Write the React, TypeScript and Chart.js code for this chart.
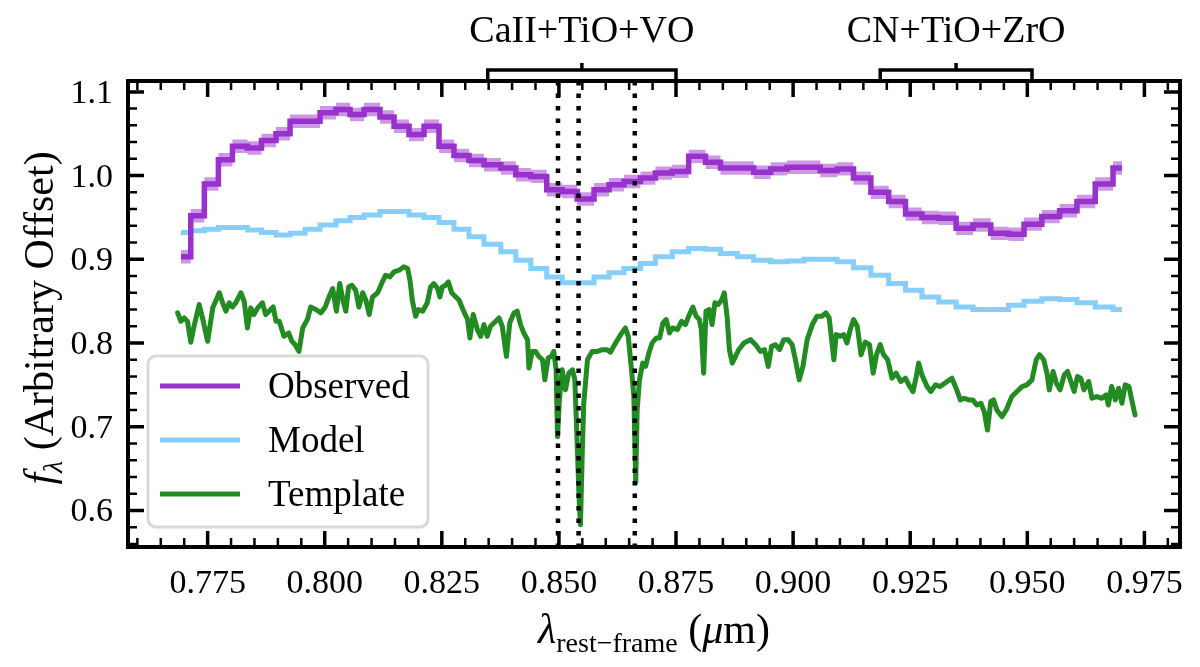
import { Chart, registerables } from 'chart.js';
import { useEffect, useRef } from 'react';

Chart.register(...registerables);

// bin edges of the observed / model spectra (micron)
const binEdges = [
    0.7693, 0.7714, 0.7743, 0.7773, 0.7803, 0.7835, 0.7865, 0.7896, 0.7926, 0.7958,
    0.7990, 0.8024, 0.8054, 0.8084, 0.8118, 0.8148, 0.8180, 0.8212, 0.8244, 0.8276,
    0.8308, 0.8340, 0.8376, 0.8408, 0.8440, 0.8474, 0.8507, 0.8539, 0.8575, 0.8607,
    0.8639, 0.8674, 0.8706, 0.8742, 0.8777, 0.8813, 0.8845, 0.8881, 0.8916, 0.8952,
    0.8987, 0.9023, 0.9058, 0.9094, 0.9129, 0.9166, 0.9204, 0.9240, 0.9275, 0.9311,
    0.9348, 0.9384, 0.9422, 0.9460, 0.9493, 0.9531, 0.9569, 0.9606, 0.9645, 0.9683,
    0.9702
];

const observedFlux = [
    0.903, 0.952, 0.990, 1.019, 1.035, 1.033, 1.042, 1.050, 1.065, 1.065,
    1.075, 1.079, 1.073, 1.079, 1.070, 1.059, 1.049, 1.059, 1.035, 1.024,
    1.018, 1.013, 1.009, 1.001, 0.999, 0.983, 0.981, 0.972, 0.983, 0.989,
    0.993, 0.997, 1.003, 1.005, 1.023, 1.016, 1.009, 1.009, 1.004, 1.008,
    1.010, 1.010, 1.006, 1.008, 0.997, 0.980, 0.969, 0.954, 0.950, 0.949,
    0.937, 0.941, 0.931, 0.930, 0.942, 0.951, 0.958, 0.969, 0.990, 1.009
];

const observedErr = [
    0.008, 0.008, 0.008, 0.008, 0.008, 0.008, 0.008, 0.008, 0.008, 0.008,
    0.008, 0.008, 0.008, 0.008, 0.008, 0.008, 0.008, 0.008, 0.008, 0.008,
    0.008, 0.008, 0.008, 0.008, 0.008, 0.008, 0.008, 0.008, 0.008, 0.008,
    0.008, 0.008, 0.008, 0.008, 0.008, 0.008, 0.008, 0.008, 0.008, 0.008,
    0.008, 0.008, 0.008, 0.008, 0.008, 0.008, 0.008, 0.008, 0.008, 0.008,
    0.008, 0.008, 0.008, 0.008, 0.008, 0.008, 0.008, 0.008, 0.008, 0.008
];

const modelFlux = [
    0.932, 0.934, 0.936, 0.938, 0.938, 0.935, 0.932, 0.929, 0.931, 0.936,
    0.941, 0.946, 0.950, 0.953, 0.957, 0.957, 0.953, 0.950, 0.944, 0.936,
    0.927, 0.918, 0.909, 0.899, 0.889, 0.879, 0.872, 0.872, 0.879, 0.884,
    0.889, 0.895, 0.903, 0.909, 0.913, 0.912, 0.907, 0.903, 0.899, 0.897,
    0.898, 0.900, 0.900, 0.897, 0.890, 0.881, 0.871, 0.863, 0.855, 0.849,
    0.843, 0.840, 0.840, 0.845, 0.850, 0.853, 0.852, 0.848, 0.843, 0.840
];

const templateWave = [
    0.7686, 0.7693, 0.7700, 0.7707, 0.7714, 0.7721, 0.7732, 0.7739, 0.7750, 0.7761,
    0.7775, 0.7782, 0.7789, 0.7796, 0.7803, 0.7810, 0.7821, 0.7828, 0.7835, 0.7842,
    0.7849, 0.7857, 0.7867, 0.7874, 0.7881, 0.7890, 0.7896, 0.7903, 0.7913, 0.7923,
    0.7930, 0.7937, 0.7945, 0.7953, 0.7963, 0.7970, 0.7981, 0.7992, 0.8001, 0.8009,
    0.8017, 0.8025, 0.8032, 0.8039, 0.8045, 0.8051, 0.8058, 0.8066, 0.8073, 0.8081,
    0.8088, 0.8095, 0.8102, 0.8113, 0.8123, 0.8130, 0.8139, 0.8148, 0.8159, 0.8169,
    0.8177, 0.8182, 0.8187, 0.8194, 0.8200, 0.8209, 0.8219, 0.8226, 0.8233, 0.8241,
    0.8246, 0.8251, 0.8258, 0.8264, 0.8271, 0.8280, 0.8287, 0.8295, 0.8305, 0.8310,
    0.8317, 0.8326, 0.8333, 0.8340, 0.8347, 0.8354, 0.8365, 0.8372, 0.8379, 0.8388,
    0.8395, 0.8404, 0.8411, 0.8418, 0.8425, 0.8433, 0.8436, 0.8443, 0.8450, 0.8457,
    0.8465, 0.8470, 0.8477, 0.8484, 0.8489, 0.8494, 0.8497, 0.8501, 0.8507, 0.8514,
    0.8521, 0.8529, 0.8534, 0.8539, 0.8543, 0.8546, 0.8550, 0.8553, 0.8561, 0.8571,
    0.8582, 0.8593, 0.8603, 0.8610, 0.8621, 0.8632, 0.8642, 0.8648, 0.8655, 0.8660,
    0.8664, 0.8667, 0.8672, 0.8679, 0.8685, 0.8692, 0.8699, 0.8708, 0.8715, 0.8722,
    0.8729, 0.8736, 0.8743, 0.8753, 0.8762, 0.8770, 0.8777, 0.8786, 0.8793, 0.8800,
    0.8804, 0.8809, 0.8814, 0.8821, 0.8827, 0.8833, 0.8840, 0.8847, 0.8853, 0.8859,
    0.8864, 0.8870, 0.8877, 0.8884, 0.8895, 0.8909, 0.8920, 0.8930, 0.8939, 0.8947,
    0.8954, 0.8962, 0.8971, 0.8980, 0.8989, 0.8998, 0.9005, 0.9013, 0.9021, 0.9030,
    0.9041, 0.9051, 0.9062, 0.9070, 0.9077, 0.9087, 0.9092, 0.9101, 0.9108, 0.9115,
    0.9122, 0.9129, 0.9137, 0.9145, 0.9154, 0.9163, 0.9171, 0.9178, 0.9186, 0.9193,
    0.9202, 0.9211, 0.9220, 0.9230, 0.9240, 0.9247, 0.9256, 0.9263, 0.9268, 0.9275,
    0.9286, 0.9294, 0.9304, 0.9314, 0.9329, 0.9339, 0.9348, 0.9357, 0.9365, 0.9375,
    0.9384, 0.9392, 0.9401, 0.9408, 0.9415, 0.9422, 0.9428, 0.9435, 0.9446, 0.9455,
    0.9467, 0.9478, 0.9489, 0.9499, 0.9510, 0.9519, 0.9526, 0.9535, 0.9542, 0.9547,
    0.9555, 0.9562, 0.9570, 0.9579, 0.9586, 0.9593, 0.9600, 0.9607, 0.9614, 0.9621,
    0.9631, 0.9638, 0.9648, 0.9659, 0.9668, 0.9673, 0.9680, 0.9688, 0.9695, 0.9702,
    0.9709, 0.9717, 0.9723, 0.9730
];

const templateFlux = [
    0.836, 0.826, 0.830, 0.826, 0.801, 0.820, 0.846, 0.830, 0.802, 0.842,
    0.860, 0.848, 0.838, 0.848, 0.843, 0.848, 0.860, 0.850, 0.818, 0.842,
    0.834, 0.842, 0.848, 0.834, 0.838, 0.843, 0.826, 0.826, 0.808, 0.812,
    0.802, 0.798, 0.790, 0.818, 0.828, 0.843, 0.840, 0.836, 0.843, 0.855,
    0.865, 0.838, 0.871, 0.851, 0.838, 0.867, 0.869, 0.863, 0.843, 0.860,
    0.851, 0.834, 0.855, 0.860, 0.873, 0.881, 0.879, 0.885, 0.887, 0.891,
    0.889, 0.875, 0.851, 0.832, 0.840, 0.838, 0.848, 0.867, 0.871, 0.865,
    0.855, 0.867, 0.869, 0.873, 0.860, 0.855, 0.851, 0.840, 0.828, 0.806,
    0.834, 0.816, 0.808, 0.822, 0.808, 0.820, 0.826, 0.830, 0.820, 0.784,
    0.824, 0.836, 0.838, 0.822, 0.812, 0.804, 0.770, 0.790, 0.790, 0.784,
    0.780, 0.756, 0.782, 0.784, 0.790, 0.768, 0.688, 0.732, 0.768, 0.744,
    0.764, 0.768, 0.756, 0.680, 0.616, 0.583, 0.672, 0.728, 0.780, 0.790,
    0.790, 0.792, 0.792, 0.789, 0.800, 0.810, 0.818, 0.808, 0.768, 0.736,
    0.633, 0.720, 0.756, 0.776, 0.772, 0.788, 0.800, 0.806, 0.806, 0.824,
    0.828, 0.812, 0.818, 0.816, 0.826, 0.822, 0.832, 0.843, 0.832, 0.828,
    0.816, 0.764, 0.838, 0.840, 0.822, 0.848, 0.846, 0.851, 0.860, 0.832,
    0.792, 0.776, 0.784, 0.792, 0.800, 0.804, 0.798, 0.790, 0.792, 0.772,
    0.796, 0.798, 0.792, 0.804, 0.804, 0.798, 0.780, 0.756, 0.772, 0.804,
    0.822, 0.832, 0.832, 0.836, 0.830, 0.780, 0.810, 0.808, 0.810, 0.800,
    0.816, 0.828, 0.820, 0.786, 0.801, 0.798, 0.764, 0.786, 0.798, 0.786,
    0.780, 0.758, 0.764, 0.754, 0.758, 0.750, 0.742, 0.760, 0.776, 0.762,
    0.748, 0.742, 0.750, 0.748, 0.754, 0.758, 0.746, 0.732, 0.734, 0.732,
    0.732, 0.726, 0.728, 0.718, 0.696, 0.730, 0.732, 0.720, 0.712, 0.720,
    0.736, 0.742, 0.748, 0.750, 0.756, 0.780, 0.786, 0.780, 0.764, 0.744,
    0.766, 0.752, 0.744, 0.762, 0.766, 0.754, 0.742, 0.760, 0.758, 0.744,
    0.754, 0.734, 0.736, 0.734, 0.738, 0.726, 0.748, 0.732, 0.746, 0.728,
    0.750, 0.748, 0.732, 0.714
];

// Ca II triplet (dotted lines)
const caTriplet = [0.8498, 0.8542, 0.8662];

// band brackets above the frame
const bandStarts = [0.8348, 0.9186];
const bandEnds = [0.8750, 0.9510];
const bandLabels = ['CaII+TiO+VO', 'CN+TiO+ZrO'];

const xTicks = [0.775, 0.800, 0.825, 0.850, 0.875, 0.900, 0.925, 0.950, 0.975];
const yTicks = [0.6, 0.7, 0.8, 0.9, 1.0, 1.1];

const legendLabels = ['Observed', 'Model', 'Template'];

const PURPLE = 'rgb(153, 50, 204)';
const PURPLE_BAND = 'rgba(153, 50, 204, 0.5)';
const BLUE = 'rgb(135, 206, 250)';
const GREEN = 'rgb(34, 139, 34)';
const SERIF = '"Liberation Serif", "DejaVu Serif", serif';

// value of bin i holds from edge i to edge i+1
function steps(values: number[]) {
    return binEdges.map((e, i) => ({ x: e, y: values[Math.max(i - 1, 0)] }));
}

const decorations = {
    id: 'decorations',
    afterDatasetsDraw(chart: Chart) {
        const { ctx, chartArea: a } = chart;
        const x = chart.scales.x;
        const y = chart.scales.y;
        ctx.save();

        // dotted Ca II lines
        ctx.strokeStyle = '#000';
        ctx.lineWidth = 4.5;
        ctx.setLineDash([4.5, 8]);
        for (const w of caTriplet) {
            const px = x.getPixelForValue(w);
            ctx.beginPath();
            ctx.moveTo(px, a.top);
            ctx.lineTo(px, a.bottom);
            ctx.stroke();
        }
        ctx.setLineDash([]);

        // minor ticks
        ctx.lineWidth = 2.5;
        ctx.beginPath();
        for (let k = 152; k <= 196; k++) {
            if (k % 5 === 0) continue;
            const px = x.getPixelForValue(k * 0.005);
            if (px < a.left || px > a.right) continue;
            ctx.moveTo(px, a.bottom); ctx.lineTo(px, a.bottom - 9);
            ctx.moveTo(px, a.top); ctx.lineTo(px, a.top + 9);
        }
        for (let k = 28; k <= 55; k++) {
            if (k % 5 === 0) continue;
            const py = y.getPixelForValue(k * 0.02);
            if (py < a.top || py > a.bottom) continue;
            ctx.moveTo(a.left, py); ctx.lineTo(a.left + 9, py);
            ctx.moveTo(a.right, py); ctx.lineTo(a.right - 9, py);
        }
        ctx.stroke();

        // major ticks
        ctx.lineWidth = 3.5;
        ctx.beginPath();
        for (const v of xTicks) {
            const px = x.getPixelForValue(v);
            ctx.moveTo(px, a.bottom); ctx.lineTo(px, a.bottom - 16);
            ctx.moveTo(px, a.top); ctx.lineTo(px, a.top + 16);
        }
        for (const v of yTicks) {
            const py = y.getPixelForValue(v);
            ctx.moveTo(a.left, py); ctx.lineTo(a.left + 16, py);
            ctx.moveTo(a.right, py); ctx.lineTo(a.right - 16, py);
        }
        ctx.stroke();

        // frame
        ctx.lineWidth = 4;
        ctx.strokeRect(a.left, a.top, a.right - a.left, a.bottom - a.top);

        // tick labels
        ctx.fillStyle = '#000';
        ctx.font = `34px ${SERIF}`;
        ctx.textAlign = 'center';
        ctx.textBaseline = 'alphabetic';
        for (const v of xTicks) {
            ctx.fillText(v.toFixed(3), x.getPixelForValue(v), a.bottom + 46);
        }
        ctx.textAlign = 'right';
        for (const v of yTicks) {
            ctx.fillText(v.toFixed(1), a.left - 15, y.getPixelForValue(v) + 11);
        }

        // band brackets
        ctx.lineWidth = 3.5;
        ctx.textAlign = 'center';
        ctx.font = `38px ${SERIF}`;
        bandLabels.forEach((label, i) => {
            const x0 = x.getPixelForValue(bandStarts[i]);
            const x1 = x.getPixelForValue(bandEnds[i]);
            const xc = (x0 + x1) / 2;
            const yb = a.top - 11;
            ctx.beginPath();
            ctx.moveTo(x0, a.top); ctx.lineTo(x0, yb); ctx.lineTo(x1, yb); ctx.lineTo(x1, a.top);
            ctx.moveTo(xc, yb); ctx.lineTo(xc, yb - 7);
            ctx.stroke();
            ctx.fillText(label, xc, 42);
        });

        // legend
        const lx = 148, ly = 356, lw = 280, lh = 171;
        ctx.beginPath();
        ctx.roundRect(lx, ly, lw, lh, 8);
        ctx.fillStyle = 'rgba(255,255,255,0.85)';
        ctx.fill();
        ctx.strokeStyle = '#d9d9d9';
        ctx.lineWidth = 3;
        ctx.stroke();
        const colors = [PURPLE, BLUE, GREEN];
        ctx.font = `37px ${SERIF}`;
        ctx.textAlign = 'left';
        legendLabels.forEach((label, i) => {
            const yy = 386 + i * 54;
            ctx.strokeStyle = colors[i];
            ctx.lineWidth = 5;
            ctx.beginPath();
            ctx.moveTo(160, yy); ctx.lineTo(240, yy);
            ctx.stroke();
            ctx.fillStyle = '#000';
            ctx.fillText(label, 268, yy + 12);
        });

        const drawParts = (ps: [string, string, number][], cx: number, base: number) => {
            let total = 0;
            for (const [t, f] of ps) { ctx.font = f; total += ctx.measureText(t).width; }
            let cur = cx - total / 2;
            ctx.textAlign = 'left';
            for (const [t, f, dy] of ps) {
                ctx.font = f;
                ctx.fillText(t, cur, base + dy);
                cur += ctx.measureText(t).width;
            }
        };
        ctx.fillStyle = '#000';

        // x title
        drawParts([
            ['λ', `italic 42px ${SERIF}`, 0],
            ['rest−frame', `28px ${SERIF}`, 9],
            [' (', `42px ${SERIF}`, 0],
            ['μ', `italic 42px ${SERIF}`, 0],
            ['m)', `42px ${SERIF}`, 0]
        ], (a.left + a.right) / 2, 643);

        // y title
        ctx.save();
        ctx.translate(53, (a.top + a.bottom) / 2 + 4);
        ctx.rotate(-Math.PI / 2);
        drawParts([
            ['f', `italic 42px ${SERIF}`, 0],
            ['λ', `italic 28px ${SERIF}`, 9],
            [' (Arbitrary Offset)', `42px ${SERIF}`, 0]
        ], 0, 0);
        ctx.restore();

        ctx.restore();
    }
};

export default function App() {
    const canvasRef = useRef<HTMLCanvasElement>(null);
    const chartRef = useRef<Chart | null>(null);

    useEffect(() => {
        document.body.style.margin = '0';
        if (!canvasRef.current) return;
        const ctx = canvasRef.current.getContext('2d');
        if (!ctx) return;
        if (chartRef.current) chartRef.current.destroy();

        const upper = observedFlux.map((v, i) => v + observedErr[i]);
        const lower = observedFlux.map((v, i) => v - observedErr[i]);

        chartRef.current = new Chart(ctx, {
            type: 'line',
            data: {
                datasets: [
                    {
                        label: 'Observed',
                        data: steps(observedFlux),
                        borderColor: PURPLE,
                        borderWidth: 5.5,
                        stepped: 'after',
                        pointRadius: 0,
                        fill: false
                    },
                    {
                        label: 'upper',
                        data: steps(upper),
                        borderWidth: 0,
                        borderColor: 'rgba(0,0,0,0)',
                        backgroundColor: PURPLE_BAND,
                        stepped: 'after',
                        pointRadius: 0,
                        fill: '+1'
                    },
                    {
                        label: 'lower',
                        data: steps(lower),
                        borderWidth: 0,
                        borderColor: 'rgba(0,0,0,0)',
                        stepped: 'after',
                        pointRadius: 0,
                        fill: false
                    },
                    {
                        label: 'Model',
                        data: steps(modelFlux),
                        borderColor: BLUE,
                        borderWidth: 5,
                        stepped: 'after',
                        pointRadius: 0,
                        fill: false
                    },
                    {
                        label: 'Template',
                        data: templateWave.map((w, i) => ({ x: w, y: templateFlux[i] })),
                        borderColor: GREEN,
                        borderWidth: 5,
                        borderJoinStyle: 'round',
                        borderCapStyle: 'round',
                        tension: 0,
                        pointRadius: 0,
                        fill: false
                    }
                ]
            },
            options: {
                animation: false,
                responsive: true,
                maintainAspectRatio: false,
                events: [],
                layout: { padding: { left: 128, right: 20, top: 81, bottom: 120 } },
                scales: {
                    x: { type: 'linear', min: 0.758, max: 0.9826, display: false },
                    y: { type: 'linear', min: 0.5563, max: 1.113, display: false }
                },
                plugins: {
                    legend: { display: false },
                    title: { display: false },
                    tooltip: { enabled: false }
                }
            },
            plugins: [decorations]
        });

        return () => {
            if (chartRef.current) {
                chartRef.current.destroy();
                chartRef.current = null;
            }
        };
    }, []);

    return (
        <div style={{ position: 'fixed', left: 0, top: 0, width: 1200, height: 667, background: '#fff' }}>
            <canvas ref={canvasRef} />
        </div>
    );
}
